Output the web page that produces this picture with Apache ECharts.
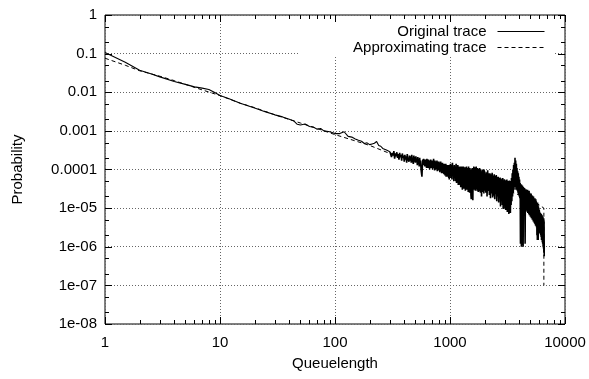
<!DOCTYPE html>
<html>
<head>
<meta charset="utf-8">
<script src="https://cdn.jsdelivr.net/npm/echarts@6/dist/echarts.min.js"></script>
<style>html,body{margin:0;padding:0;background:#fff}#c{width:589px;height:379px}</style>
</head>
<body>
<div id="c"></div>
<script>
// ---------- data ----------
// Original trace: queue length (x) and probability (y)
const origX = [1,1.5,2,2.5,3,4,5,6,7,8,9,10,12,15,20,25,30,35,40,44,47,50,52,55,60,65,70,75,80,90,100,
110,120,130,140,150,160,170,180,190,200,210,220,230,240,250,260,270,280,290,300,
305,310,315,320,325,330,335,340,345,350,355,360,365,370,375,380,385,390,395,400,
405,410,415,420,425,430,435,440,445,450,455,460,465,470,475,480,485,490,495,500,
505,510,515,520,525,530,535,540,545,550,555,560,565,570,575,580,585,590,595,600,
605,610,615,620,625,630,635,640,645,650,655,660,665,670,675,680,685,690,695,700,
705,710,715,720,725,730,735,740,745,750,755,760,765,770,775,780,785,790,795,800,
805,810,815,820,825,830,835,840,845,850,855,860,865,870,875,880,885,890,895,900,
905,910,915,920,925,930,935,940,945,950,955,960,965,970,975,980,985,990,995,1000,
1010,1020,1030,1040,1050,1060,1070,1080,1090,1100,1110,1120,1130,1140,1150,1160,1170,1180,1190,1200,
1210,1220,1230,1240,1250,1260,1270,1280,1290,1300,1310,1320,1330,1340,1350,1360,1370,1380,1390,1400,
1410,1420,1430,1440,1450,1460,1470,1480,1490,1500,1510,1520,1530,1540,1550,1560,1570,1580,1590,1600,
1610,1620,1630,1640,1650,1660,1670,1680,1690,1700,1710,1720,1730,1740,1750,1760,1770,1780,1790,1800,
1810,1820,1830,1840,1850,1860,1870,1880,1890,1900,1910,1920,1930,1940,1950,1960,1970,1980,1990,2000,
2025,2050,2075,2100,2125,2150,2175,2200,2225,2250,2275,2300,2325,2350,2375,2400,
2425,2450,2475,2500,2525,2550,2575,2600,2625,2650,2675,2700,2725,2750,2775,2800,
2825,2850,2875,2900,2925,2950,2975,3000,3025,3050,3075,3100,3125,3150,3175,3200,
3225,3250,3275,3300,3325,3350,3375,3400,3425,3450,3475,3500,3525,3550,3575,3600,
3625,3650,3675,3700,3725,3750,3775,3800,3825,3850,3875,3900,3925,3950,3975,4000,
4025,4050,4075,4100,4125,4150,4175,4200,4225,4250,4275,4300,4325,4350,4375,4400,
4425,4450,4475,4500,4525,4550,4575,4600,4625,4650,4675,4700,4725,4750,4775,4800,
4825,4850,4875,4900,4925,4950,4975,5000,5025,5050,5075,5100,5125,5150,5175,5200,
5225,5250,5275,5300,5325,5350,5375,5400,5425,5450,5475,5500,5525,5550,5575,5600,
5625,5650,5675,5700,5725,5750,5775,5800,5825,5850,5875,5900,5925,5950,5975,6000,
6025,6050,6075,6100,6125,6150,6175,6200,6225,6250,6275,6300,6325,6350,6375,6400,
6425,6450,6475,6500,6525,6550,6575,6600];

const origY = [0.107,0.06,0.037,0.03,0.025,0.019,0.016,0.0138,0.0128,0.0118,0.0098,0.0082,0.0068,0.0052,0.0039,0.0031,0.0026,0.0023,0.002,0.0018,0.00148,0.00142,0.00155,0.0015,0.0013,0.00125,0.0011,0.00115,0.001,0.00095,0.00085,
8.5e-4,9.5e-4,7.2e-4,6.9e-4,6.2e-4,5.7e-4,5.4e-4,4.7e-4,4.9e-4,4.4e-4,4.6e-4,4.8e-4,5.3e-4,4.2e-4,4.0e-4,3.5e-4,3.9e-4,3.2e-4,3.5e-4,2.9e-4,
29e-5,21e-5,27e-5,23e-5,30e-5,19e-5,26e-5,22e-5,28e-5,20e-5,
25e-5,18e-5,27e-5,21e-5,24e-5,17e-5,26e-5,20e-5,23e-5,16e-5,
24e-5,18e-5,22e-5,15e-5,25e-5,19e-5,21e-5,16e-5,23e-5,17e-5,
22e-5,15e-5,24e-5,18e-5,20e-5,14e-5,23e-5,16e-5,21e-5,15e-5,
22e-5,16e-5,19e-5,13e-5,21e-5,15e-5,18e-5,12e-5,20e-5,14e-5,
17e-5,10e-5,8e-5,6.5e-5,12e-5,18e-5,13e-5,19e-5,14e-5,17e-5,
12e-5,18e-5,13e-5,17e-5,11e-5,19e-5,14e-5,16e-5,11e-5,18e-5,
13e-5,17e-5,10e-5,16e-5,12e-5,18e-5,11e-5,17e-5,13e-5,16e-5,
10e-5,17e-5,12e-5,19e-5,11e-5,16e-5,9.5e-5,17e-5,12e-5,16e-5,
10e-5,15e-5,11e-5,17e-5,9e-5,16e-5,12e-5,15e-5,9.5e-5,16e-5,
10e-5,15e-5,8.5e-5,14e-5,11e-5,16e-5,9e-5,15e-5,8e-5,14e-5,
10e-5,15e-5,8e-5,14e-5,9.5e-5,13e-5,7.5e-5,14e-5,9e-5,13e-5,
7e-5,13e-5,9e-5,14e-5,6.5e-5,12e-5,8e-5,13e-5,7e-5,12.5e-5,
6.5e-5,12e-5,8e-5,13e-5,6e-5,12e-5,5.5e-5,13e-5,7e-5,12e-5,
14e-5,6e-5,13e-5,5.5e-5,15e-5,7e-5,12e-5,5e-5,13e-5,6e-5,
12e-5,5e-5,14e-5,4.5e-5,11e-5,6e-5,13e-5,4e-5,12e-5,5e-5,
11e-5,4e-5,12e-5,3.5e-5,10e-5,5e-5,12e-5,3e-5,11e-5,4.5e-5,
12e-5,3.2e-5,10e-5,4e-5,11.5e-5,2.8e-5,10e-5,4.2e-5,12e-5,3e-5,
10e-5,3.5e-5,11e-5,2.6e-5,12e-5,3.8e-5,9.5e-5,2.5e-5,11e-5,3e-5,
10e-5,2.2e-5,1.7e-5,9e-5,2.4e-5,11e-5,3e-5,1.6e-5,10e-5,3.5e-5,
12e-5,3e-5,10e-5,4e-5,11.5e-5,2.8e-5,9.5e-5,3.6e-5,12e-5,3.2e-5,
10e-5,2.8e-5,11e-5,3.5e-5,9e-5,2.6e-5,10.5e-5,3.8e-5,9.5e-5,2.7e-5,
11e-5,3e-5,9.5e-5,2.5e-5,10e-5,3.4e-5,9e-5,2e-5,1.8e-5,9e-5,
3e-5,10e-5,2.6e-5,9.5e-5,3.2e-5,8.8e-5,2.4e-5,10e-5,2.8e-5,9e-5,
9e-5,2.5e-5,8.5e-5,2e-5,9.5e-5,2.8e-5,8e-5,2.2e-5,
8e-5,1.8e-5,7.5e-5,2.4e-5,8.2e-5,1.9e-5,7e-5,2.1e-5,
7.5e-5,1.7e-5,6.8e-5,2.3e-5,7.2e-5,1.5e-5,6.5e-5,2e-5,
6.5e-5,1.4e-5,6e-5,1.8e-5,6.2e-5,1.1e-5,5.8e-5,1.6e-5,
5.5e-5,1.2e-5,6e-5,0.95e-5,5.2e-5,1.4e-5,5.6e-5,1e-5,
5.3e-5,0.9e-5,5e-5,1.2e-5,5.5e-5,0.8e-5,4.8e-5,1.1e-5,
5e-5,0.7e-5,5.2e-5,1e-5,4.6e-5,0.75e-5,5e-5,1.2e-5,
6e-5,1.5e-5,8e-5,2e-5,10e-5,2.5e-5,13e-5,3e-5,
15e-5,3.5e-5,20e-5,4e-5,17e-5,3e-5,14e-5,3.5e-5,
11e-5,2.8e-5,9e-5,2.5e-5,8e-5,2.2e-5,6.5e-5,2e-5,
5.5e-5,1.8e-5,4.5e-5,0.12e-5,4.2e-5,1.5e-5,0.1e-5,4e-5,
1.5e-5,0.11e-5,3.8e-5,1.4e-5,0.1e-5,3.5e-5,1.3e-5,3.2e-5,
1.2e-5,3.3e-5,1.1e-5,0.12e-5,3e-5,1e-5,3.1e-5,0.9e-5,
2.9e-5,0.85e-5,2.8e-5,0.8e-5,3e-5,0.75e-5,2.7e-5,0.8e-5,
2.6e-5,0.7e-5,2.8e-5,0.65e-5,2.5e-5,0.7e-5,2.4e-5,0.6e-5,
2.3e-5,0.6e-5,2.4e-5,0.55e-5,2.2e-5,0.6e-5,2e-5,0.5e-5,
2.1e-5,0.5e-5,1.9e-5,0.45e-5,2e-5,0.5e-5,1.8e-5,0.42e-5,
1.7e-5,0.4e-5,1.8e-5,0.38e-5,1.6e-5,0.35e-5,1.7e-5,0.36e-5,
1.5e-5,0.32e-5,1.4e-5,0.2e-5,1.3e-5,0.15e-5,1.4e-5,0.3e-5,
1.2e-5,0.15e-5,1.1e-5,0.3e-5,1.0e-5,0.28e-5,0.9e-5,0.25e-5,
0.8e-5,0.22e-5,0.7e-5,0.25e-5,0.75e-5,0.2e-5,0.65e-5,0.18e-5,
0.7e-5,0.15e-5,0.6e-5,0.2e-5,0.65e-5,0.13e-5,0.55e-5,0.12e-5,
0.6e-5,0.1e-5,0.5e-5,0.09e-5,0.55e-5,0.07e-5,0.45e-5,0.057e-5];

// Approximating trace
const approxX = [1,1.5,2,3,4,5,7,10,15,20,30,50,70,100,150,200,300,500,700,1000,1500,2000,3000,4000,5000,6000,6550,6550];
const approxY = [0.076,0.05,0.036,0.026,0.02,0.016,0.0115,0.0082,0.0052,0.004,0.0026,0.0016,0.00115,0.0008,0.00055,0.00042,0.00026,0.00016,0.00012,0.00009,0.00006,0.000045,0.00003,0.000022,0.000016,0.000012,0.00001,1e-7];

const seriesNames = ['Original trace', 'Approximating trace'];
const xTickLabels = ['1','10','100','1000','10000'];
const yTickLabels = ['1','0.1','0.01','0.001','0.0001','1e-05','1e-06','1e-07','1e-08'];
const xMajor = [1,10,100,1000,10000];
const xMinor = [2,3,4,5,6,7,8,9,20,30,40,50,60,70,80,90,200,300,400,500,600,700,800,900,2000,3000,4000,5000,6000,7000,8000,9000];
const yMajor = [1,0.1,0.01,0.001,1e-4,1e-5,1e-6,1e-7,1e-8];
const yMinor = [0.5,0.2,0.05,0.02,0.005,0.002,5e-4,2e-4,5e-5,2e-5,5e-6,2e-6,5e-7,2e-7,5e-8,2e-8];

// ---------- chart ----------
const X_MIN = 1, X_MAX = 10000, Y_MIN = 1e-8, Y_MAX = 1;
const NOISY_FROM = 300; // where the trace becomes a dense noisy band
const FONT = 'Liberation Sans, Arial, Helvetica, sans-serif';
const chart = echarts.init(document.getElementById('c'), null, {renderer: 'canvas'});

const origPairs = origX.map((x, i) => [x, origY[i]]);
const origSmooth = origPairs.filter(p => p[0] <= NOISY_FROM);
const origNoisy = origPairs.filter(p => p[0] >= NOISY_FROM);

function xTickSeries(vals, len) {
  return {
    type: 'custom', silent: true, z: 5, clip: false,
    data: vals.map(v => [v, Y_MIN]),
    renderItem: function (params, api) {
      const v = api.value(0);
      const b = api.coord([v, Y_MIN]);
      const t = api.coord([v, Y_MAX]);
      const x = Math.round(b[0]) + 0.5;
      const st = {stroke: '#000', lineWidth: 1};
      return {type: 'group', children: [
        {type: 'line', shape: {x1: x, y1: b[1], x2: x, y2: b[1] - len}, style: st},
        {type: 'line', shape: {x1: x, y1: t[1], x2: x, y2: t[1] + len}, style: st}
      ]};
    }
  };
}
function yTickSeries(vals, len) {
  return {
    type: 'custom', silent: true, z: 5, clip: false,
    data: vals.map(v => [X_MIN, v]),
    renderItem: function (params, api) {
      const v = api.value(1);
      const l = api.coord([X_MIN, v]);
      const r = api.coord([X_MAX, v]);
      const y = Math.round(l[1]) + 0.5;
      const st = {stroke: '#000', lineWidth: 1};
      return {type: 'group', children: [
        {type: 'line', shape: {x1: l[0], y1: y, x2: l[0] + len, y2: y}, style: st},
        {type: 'line', shape: {x1: r[0], y1: y, x2: r[0] - len, y2: y}, style: st}
      ]};
    }
  };
}

const option = {
  animation: false,
  backgroundColor: '#fff',
  grid: {left: 105, right: 24, top: 15, bottom: 55, show: true, borderColor: '#000', borderWidth: 1, backgroundColor: 'transparent'},
  legend: {
    data: seriesNames,
    orient: 'vertical', right: 44, top: 24, align: 'right',
    itemWidth: 47, itemHeight: 14, itemGap: 1, padding: 0,
    itemStyle: {opacity: 0, color: 'transparent', borderWidth: 0},
    lineStyle: {width: 1},
    textStyle: {fontSize: 15, color: '#000', fontFamily: FONT, padding: [0, 6, 0, 0]},
    selectedMode: false
  },
  graphic: [{type: 'rect', shape: {x: 300, y: 24, width: 253, height: 33}, style: {fill: '#fff'}, z: 3, silent: true}],
  xAxis: {
    type: 'log', logBase: 10, min: X_MIN, max: X_MAX,
    name: 'Queuelength', nameLocation: 'middle', nameGap: 32,
    nameTextStyle: {fontSize: 15, color: '#000', fontFamily: FONT},
    axisLine: {show: false}, axisTick: {show: false}, minorTick: {show: false},
    axisLabel: {fontSize: 15, color: '#000', fontFamily: FONT, margin: 11,
      formatter: v => xTickLabels[Math.round(Math.log10(v))]},
    splitLine: {show: true, lineStyle: {color: '#666', width: 1, type: [1, 2]}}
  },
  yAxis: {
    type: 'log', logBase: 10, min: Y_MIN, max: Y_MAX,
    name: 'Probability', nameLocation: 'middle', nameGap: 80, nameRotate: 90,
    nameTextStyle: {fontSize: 15, color: '#000', fontFamily: FONT},
    axisLine: {show: false}, axisTick: {show: false}, minorTick: {show: false},
    axisLabel: {fontSize: 15, color: '#000', fontFamily: FONT, margin: 8,
      formatter: v => yTickLabels[Math.round(-Math.log10(v))]},
    splitLine: {show: true, lineStyle: {color: '#666', width: 1, type: [1, 2]}}
  },
  series: [
    {name: seriesNames[0], type: 'line', symbol: 'none', z: 2,
     data: origSmooth,
     lineStyle: {color: '#000', width: 1.1, type: 'solid'}, itemStyle: {color: '#000'}},
    {name: seriesNames[0], type: 'line', symbol: 'none', z: 2,
     data: origNoisy,
     lineStyle: {color: '#000', width: 1.6, type: 'solid'}, itemStyle: {color: '#000'}},
    {name: seriesNames[1], type: 'line', symbol: 'none', z: 2,
     data: approxX.map((x, i) => [x, approxY[i]]),
     lineStyle: {color: '#000', width: 1, type: [4, 3]}, itemStyle: {color: '#000'}},
    xTickSeries(xMajor, 7), xTickSeries(xMinor, 4),
    yTickSeries(yMajor, 7), yTickSeries(yMinor, 4)
  ]
};
chart.setOption(option);
</script>
</body>
</html>
